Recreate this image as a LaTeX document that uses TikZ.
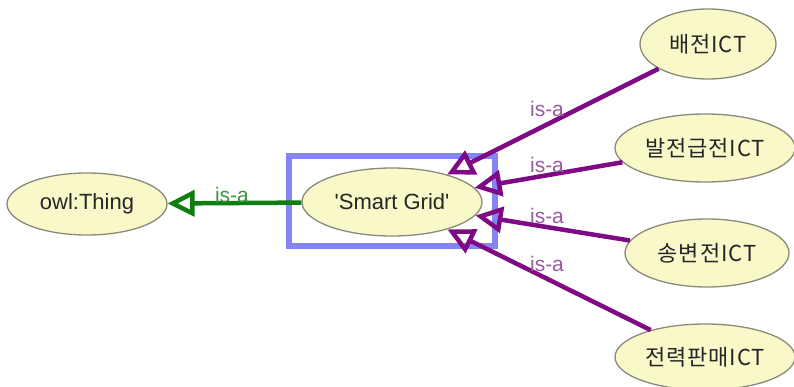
\documentclass[tikz,border=0pt]{standalone}
\usepackage{fontspec}
\setmainfont{Liberation Sans}[Ligatures=TeXOff]
\newfontfamily\kr{Noto Sans CJK KR}[Ligatures=TeXOff, LetterSpace=4]
\usetikzlibrary{shapes.geometric,arrows.meta}
\definecolor{ellfill}{HTML}{F9F8C9}
\definecolor{ellline}{HTML}{8A8A7A}
\definecolor{isapurple}{HTML}{7E0A84}
\definecolor{lblpurple}{HTML}{9A5AA0}
\definecolor{isagreen}{HTML}{0E7F0E}
\definecolor{lblgreen}{HTML}{3E963E}
\definecolor{selblue}{HTML}{8484F4}
\tikzset{
  cls/.style={ellipse, draw=ellline, line width=1.3pt, fill=ellfill, inner sep=0pt, font=\fontsize{22}{24}\selectfont, text=black!85},
  isa/.style={draw=isapurple, line width=4.5pt, -{Triangle[open,length=27pt,width=26pt]}},
  isag/.style={draw=isagreen, line width=4.5pt, -{Triangle[open,length=27pt,width=26pt]}},
  lbl/.style={anchor=base, inner sep=0pt, font=\fontsize{21}{24}\selectfont, text=lblpurple},
  lblg/.style={anchor=base, inner sep=0pt, font=\fontsize{21}{24}\selectfont, text=lblgreen},
}
\begin{document}
\begin{tikzpicture}[x=1pt,y=-1pt]
\useasboundingbox[fill=white] (0,0) rectangle (794,387);
\draw[selblue, line width=6pt] (289,156) rectangle (495,246);
\node[cls, minimum width=160pt, minimum height=62pt] (thing) at (87,204) {owl:Thing};
\node[cls, minimum width=180pt, minimum height=68pt] (sg) at (392,202) {'Smart Grid'};
\node[cls, minimum width=136pt, minimum height=70pt] (n1) at (708,44) {\kr 배전ICT};
\node[cls, minimum width=180pt, minimum height=68pt] (n2) at (705,148) {\kr 발전급전ICT};
\node[cls, minimum width=164pt, minimum height=68pt] (n3) at (707,253) {\kr 송변전ICT};
\node[cls, minimum width=180pt, minimum height=66pt] (n4) at (705,357) {\kr 전력판매ICT};
\draw[isag] (sg) -- (thing);
\draw[isa] (n1) -- (sg);
\draw[isa] (n2) -- (sg);
\draw[isa] (n3) -- (sg);
\draw[isa] (n4) -- (sg);
\node[lblg] (lg) at (232,203) {is-a};
\node[lbl] (l1) at (547,117) {is-a};
\node[lbl] (l2) at (547,173) {is-a};
\node[lbl] (l3) at (547,224) {is-a};
\node[lbl] (l4) at (547,271) {is-a};
\end{tikzpicture}
\end{document}
